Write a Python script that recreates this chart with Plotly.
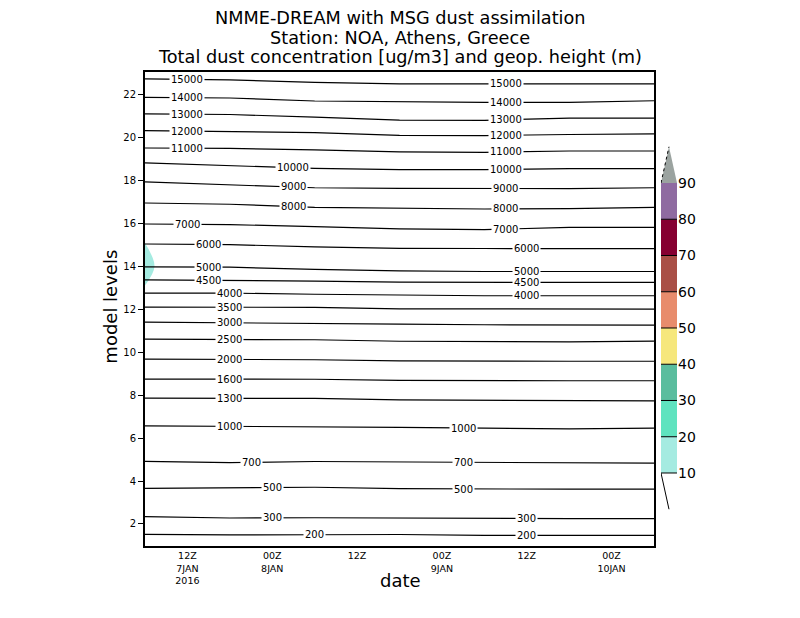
# NMME-DREAM station plot (NOA, Athens) - time/height cross section
# geop. height contours + total dust concentration (>10 ug/m3 filled)

import numpy as np
import pandas as pd
import plotly.graph_objects as go

start = pd.Timestamp("2016-01-07 06:00")

# hours after 06Z 7JAN at which the contour lines were read
line_hours = [0, 12, 24, 36, 48, 60, 72]

# model level of each geop. height contour (m) at the times above
z15000 = [22.73, 22.68, 22.57, 22.50, 22.50, 22.50, 22.50]
z14000 = [21.87, 21.84, 21.70, 21.66, 21.64, 21.64, 21.71]
z13000 = [21.10, 21.07, 20.95, 20.81, 20.80, 20.90, 20.90]
z12000 = [20.32, 20.28, 20.23, 20.10, 20.09, 20.14, 20.17]
z11000 = [19.51, 19.49, 19.42, 19.33, 19.31, 19.37, 19.37]
z10000 = [18.82, 18.69, 18.56, 18.50, 18.50, 18.55, 18.55]
z9000 = [17.93, 17.80, 17.66, 17.63, 17.62, 17.62, 17.66]
z8000 = [16.95, 16.89, 16.75, 16.71, 16.67, 16.69, 16.75]
z7000 = [15.97, 15.94, 15.85, 15.74, 15.71, 15.81, 15.81]
z6000 = [15.04, 15.01, 14.91, 14.84, 14.83, 14.82, 14.82]
z5000 = [13.97, 13.96, 13.86, 13.79, 13.76, 13.76, 13.76]
z4500 = [13.37, 13.35, 13.31, 13.26, 13.25, 13.25, 13.25]
z4000 = [12.75, 12.75, 12.70, 12.65, 12.63, 12.63, 12.63]
z3500 = [12.10, 12.10, 12.09, 12.02, 12.01, 12.01, 12.01]
z3000 = [11.40, 11.38, 11.35, 11.31, 11.28, 11.26, 11.26]
z2500 = [10.61, 10.59, 10.58, 10.51, 10.51, 10.48, 10.52]
z2000 = [9.68, 9.67, 9.65, 9.60, 9.58, 9.58, 9.58]
z1600 = [8.75, 8.75, 8.74, 8.69, 8.67, 8.67, 8.67]
z1300 = [7.86, 7.86, 7.85, 7.78, 7.76, 7.73, 7.73]
z1000 = [6.57, 6.55, 6.55, 6.50, 6.46, 6.43, 6.46]
z700 = [4.92, 4.86, 4.91, 4.89, 4.86, 4.83, 4.83]
z500 = [3.66, 3.68, 3.71, 3.65, 3.62, 3.62, 3.62]
z300 = [2.34, 2.28, 2.29, 2.27, 2.25, 2.25, 2.25]
z200 = [1.52, 1.49, 1.50, 1.51, 1.47, 1.47, 1.47]

heights = [15000, 14000, 13000, 12000, 11000, 10000, 9000, 8000, 7000, 6000,
           5000, 4500, 4000, 3500, 3000, 2500, 2000, 1600, 1300, 1000,
           700, 500, 300, 200]
height_lines = [z15000, z14000, z13000, z12000, z11000, z10000, z9000, z8000,
                z7000, z6000, z5000, z4500, z4000, z3500, z3000, z2500, z2000,
                z1600, z1300, z1000, z700, z500, z300, z200]

# where grads put the contour labels (hours after start), None = no label
label_left_hour = [6, 6, 6, 6, 6, 21, 21, 21, 6, 9, 9, 9, 12, 12, 12, 12, 12,
                   12, 12, 12, 15, 18, 18, 24]
label_right_hour = [51, 51, 51, 51, 51, 51, 51, 51, 51, 54, 54, 54, 54, None,
                    None, None, None, None, None, 45, 45, 45, 54, 54]

# total dust concentration (ug/m3), only the small patch near level 14
dust_hours = [0, 3, 6]
dust_levels = [12, 13, 14, 15, 16]
dust = [[6.5, 4.0, 1.0],
        [9.8, 6.0, 1.5],
        [11.7, 7.9, 1.5],
        [10.2, 6.0, 1.5],
        [8.0, 3.0, 1.0]]

# shading levels / colours of the colour bar
cb_levels = [10, 20, 30, 40, 50, 60, 70, 80, 90]
cb_colors = ["#a5ebe1", "#5fe3bf", "#5abd9e", "#f6e77c", "#e88c6c",
             "#a94f46", "#860031", "#8f6ba1"]
over_color = "#9ba3a0"

xtick_hours = [6, 18, 30, 42, 54, 66]
xtick_text = ["12Z<br>7JAN<br>2016", "00Z<br>8JAN", "12Z", "00Z<br>9JAN",
              "12Z", "00Z<br>10JAN"]


def t(h):
    return (start + pd.Timedelta(hours=h)).strftime("%Y-%m-%d %H:%M")


fig = go.Figure()

# dust shading (only > 10 shows) - plotly shades the side that fails the test,
# so '<' here ends up filling the >10 part
fig.add_trace(go.Contour(
    x=[t(h) for h in dust_hours], y=dust_levels, z=dust,
    contours=dict(type="constraint", operation="<", value=cb_levels[0]),
    fillcolor=cb_colors[0], line=dict(width=0, color=cb_colors[0]),
    showscale=False, hoverinfo="skip"))

line_x = [t(h) for h in line_hours]
annots = []
for hgt, lev, lh, rh in zip(heights, height_lines, label_left_hour, label_right_hour):
    fig.add_trace(go.Scatter(x=line_x, y=lev, mode="lines",
                             line=dict(color="black", width=1.2),
                             hoverinfo="skip", showlegend=False))
    for h in (lh, rh):
        if h is None:
            continue
        annots.append(dict(x=t(h), y=float(np.interp(h, line_hours, lev)),
                           xref="x", yref="y", text=str(hgt), showarrow=False,
                           bgcolor="white", borderpad=1,
                           font=dict(family="DejaVu Sans", size=10, color="black")))

# colour bar drawn on its own little axis
fig.add_trace(go.Bar(x=[0.5] * len(cb_colors), y=np.diff(cb_levels),
                     base=cb_levels[:-1], width=1, marker_color=cb_colors,
                     marker_line_width=0, xaxis="x2", yaxis="y2",
                     hoverinfo="skip", showlegend=False))
sep_x, sep_y = [], []
for lv in cb_levels[:-1]:
    sep_x += [0, 1, None]
    sep_y += [lv, lv, None]
fig.add_trace(go.Scatter(x=sep_x, y=sep_y, mode="lines",
                         line=dict(color="black", width=1),
                         xaxis="x2", yaxis="y2", hoverinfo="skip", showlegend=False))
step = cb_levels[1] - cb_levels[0]
top = cb_levels[-1]
fig.add_trace(go.Scatter(x=[0, 1, 0.5, 0], y=[top, top, top + step, top],
                         fill="toself", fillcolor=over_color, mode="lines",
                         line=dict(width=0, color=over_color),
                         xaxis="x2", yaxis="y2", hoverinfo="skip", showlegend=False))
fig.add_trace(go.Scatter(x=[0, 0.5], y=[top, top + step], mode="lines",
                         line=dict(color="black", width=1, dash="dot"),
                         xaxis="x2", yaxis="y2", hoverinfo="skip", showlegend=False))
bot = cb_levels[0]
fig.add_trace(go.Scatter(x=[0, 0.5], y=[bot, bot - step], mode="lines",
                         line=dict(color="black", width=1),
                         xaxis="x2", yaxis="y2", hoverinfo="skip", showlegend=False))

# titles
title_lines = ["NMME-DREAM with MSG dust assimilation",
               "Station: NOA, Athens, Greece",
               "Total dust concentration [ug/m3] and geop. height (m)"]
for txt, yy in zip(title_lines, [1.1139, 1.0717, 1.0316]):
    annots.append(dict(x=0.4435, y=yy, xref="paper", yref="paper", text=txt,
                       showarrow=False, xanchor="center", yanchor="middle",
                       font=dict(family="DejaVu Sans", size=17.7, color="black")))
annots.append(dict(x=-0.0591, y=0.505, xref="paper", yref="paper",
                   text="model levels", textangle=-90, showarrow=False,
                   xanchor="center", yanchor="middle",
                   font=dict(family="DejaVu Sans", size=18, color="black")))
annots.append(dict(x=0.4435, y=-0.0738, xref="paper", yref="paper",
                   text="date", showarrow=False, xanchor="center", yanchor="middle",
                   font=dict(family="DejaVu Sans", size=18, color="black")))

# page body has an 8px margin, so pull the plot up/left by that much
fig.update_layout(
    width=800, height=618,
    margin=dict(l=137, r=88, t=64, b=80),
    paper_bgcolor="white", plot_bgcolor="white",
    showlegend=False,
    xaxis=dict(domain=[0, 0.8852], type="date",
               range=[t(0), t(72)],
               tickvals=[t(h) for h in xtick_hours], ticktext=xtick_text,
               ticks="", showgrid=False, zeroline=False,
               showline=True, mirror=True, linecolor="black", linewidth=2,
               tickfont=dict(family="DejaVu Sans", size=9.5, color="black")),
    yaxis=dict(range=[0.975, 23.05], tickvals=list(range(2, 23, 2)),
               ticks="outside", ticklen=5, tickcolor="black",
               showgrid=False, zeroline=False,
               showline=True, mirror=True, linecolor="black", linewidth=2,
               tickfont=dict(family="DejaVu Sans", size=10, color="black")),
    xaxis2=dict(domain=[0.8974, 0.9252], range=[0, 1], anchor="y2",
                visible=False),
    yaxis2=dict(domain=[0, 1], range=[-10.14, 120.62], anchor="x2",
                side="right", tickvals=cb_levels, ticks="",
                showgrid=False, zeroline=False, showline=False,
                tickfont=dict(family="DejaVu Sans", size=14, color="black")),
    annotations=annots,
)

fig.write_html("out.html")
